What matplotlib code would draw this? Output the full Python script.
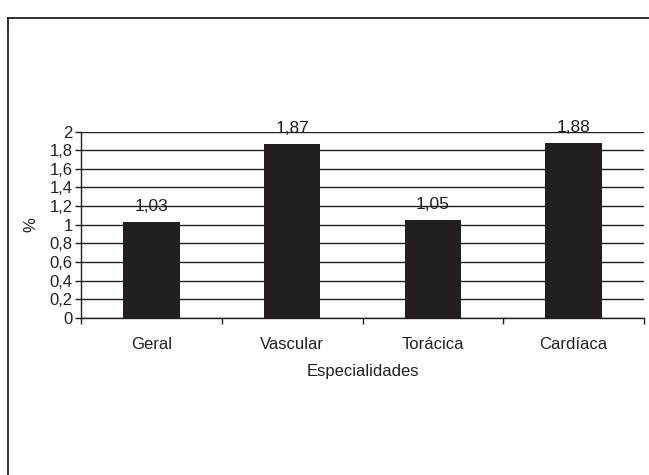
import matplotlib
matplotlib.use("Agg")
import matplotlib.pyplot as plt
from matplotlib.lines import Line2D
from matplotlib.ticker import FixedLocator
from matplotlib import font_manager

# Data
categories = ["Geral", "Vascular", "Torácica", "Cardíaca"]
values = [1.03, 1.87, 1.05, 1.88]
value_labels = ["1,03", "1,87", "1,05", "1,88"]
y_ticks = [0, 0.2, 0.4, 0.6, 0.8, 1, 1.2, 1.4, 1.6, 1.8, 2]
y_tick_labels = ["0", "0,2", "0,4", "0,6", "0,8", "1", "1,2", "1,4", "1,6", "1,8", "2"]

installed = {f.name for f in font_manager.fontManager.ttflist}
family = ["Liberation Sans Narrow"] if "Liberation Sans Narrow" in installed else []
family += ["Liberation Sans", "DejaVu Sans"]
plt.rcParams["font.family"] = family

INK = "#231f20"
W, H = 649, 475
fig = plt.figure(figsize=(W / 100, H / 100), dpi=100)
fig.patch.set_facecolor("white")

ax = fig.add_axes([81 / W, 1 - 318 / H, (644 - 81) / W, (318 - 131.5) / H])

x = list(range(len(categories)))
ax.bar(x, values, width=0.4, color=INK, zorder=3)

for xi, v, lab in zip(x, values, value_labels):
    ax.annotate(lab, (xi, v), xytext=(0, 8), textcoords="offset points",
                ha="center", va="baseline", fontsize=12.5, color=INK, zorder=4)

ax.set_xlim(-0.5, len(categories) - 0.5)
ax.set_ylim(0, 2)

ax.yaxis.set_major_locator(FixedLocator(y_ticks))
ax.set_yticklabels(y_tick_labels)
ax.yaxis.grid(True, color=INK, linewidth=1.0, zorder=1)

ax.set_xticks(x)
ax.set_xticklabels(categories)
ax.xaxis.set_minor_locator(FixedLocator([i - 0.5 for i in range(len(categories) + 1)]))
ax.tick_params(axis="x", which="major", length=0, pad=14, labelsize=12, labelcolor=INK)
ax.tick_params(axis="x", which="minor", length=4, width=1, direction="out", color=INK)
ax.tick_params(axis="y", length=4, width=1, direction="out", pad=2, labelsize=12,
               labelcolor=INK, color=INK)

for side in ("top", "right"):
    ax.spines[side].set_visible(False)
for side in ("left", "bottom"):
    ax.spines[side].set_color(INK)
    ax.spines[side].set_linewidth(1.0)

ax.set_xlabel("Especialidades", fontsize=12, color=INK, labelpad=8)
ax.set_ylabel("%", fontsize=12, color=INK, labelpad=8)

# Outer frame (left and top edges)
fig.add_artist(Line2D([7.8 / W, 7.8 / W], [0, 1 - 17.8 / H], transform=fig.transFigure,
                      color=INK, linewidth=1.3))
fig.add_artist(Line2D([7.8 / W, 1], [1 - 17.8 / H, 1 - 17.8 / H], transform=fig.transFigure,
                      color=INK, linewidth=1.3))

fig.savefig("out.png", dpi=100, facecolor="white")
